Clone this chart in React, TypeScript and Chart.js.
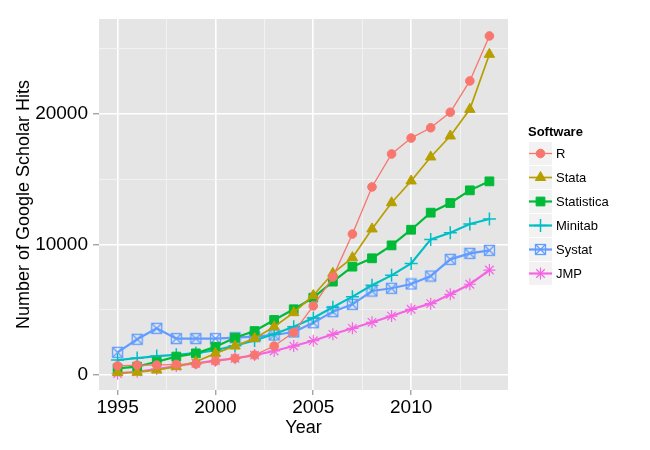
import { useEffect, useRef } from 'react';
import { Chart, registerables } from 'chart.js';
import { drawPoint } from 'chart.js/helpers';

Chart.register(...registerables);

const years = [1995, 1996, 1997, 1998, 1999, 2000, 2001, 2002, 2003, 2004, 2005, 2006, 2007, 2008, 2009, 2010, 2011, 2012, 2013, 2014];
const rHits = [700, 760, 760, 820, 850, 1070, 1280, 1530, 2220, 3270, 5300, 7510, 10810, 14420, 16950, 18170, 18960, 20150, 22550, 26000];
const stataHits = [180, 210, 380, 640, 1020, 1660, 2220, 2810, 3700, 4780, 6100, 7800, 9000, 11200, 13210, 14880, 16720, 18330, 20370, 24590];
const statisticaHits = [510, 640, 1020, 1410, 1660, 2170, 2860, 3370, 4220, 5040, 5930, 7160, 8310, 8950, 9940, 11140, 12450, 13190, 14160, 14850];
const minitabHits = [1150, 1300, 1450, 1550, 1680, 1900, 2250, 2650, 3150, 3700, 4370, 5190, 6010, 6880, 7640, 8560, 10400, 10910, 11580, 11960];
const systatHits = [1740, 2740, 3580, 2790, 2790, 2790, 2860, 2940, 3070, 3300, 4010, 4860, 5420, 6440, 6650, 6980, 7590, 8870, 9330, 9560];
const jmpHits = [100, 250, 460, 690, 900, 1100, 1280, 1530, 1840, 2220, 2630, 3120, 3580, 4040, 4520, 5040, 5470, 6190, 6960, 8050];

const softwareNames = ['R', 'Stata', 'Statistica', 'Minitab', 'Systat', 'JMP'];
const xTickValues = [1995, 1997.5, 2000, 2002.5, 2005, 2007.5, 2010, 2012.5];
const yTickValues = [0, 5000, 10000, 15000, 20000, 25000];
const legendTitle = 'Software';
const xTitle = 'Year';
const yTitle = 'Number of Google Scholar Hits';

const FONT = "'Liberation Sans', Arial, sans-serif";

function makeSquareCross(color: string): HTMLCanvasElement {
  const c = document.createElement('canvas');
  c.width = 13;
  c.height = 13;
  const g = c.getContext('2d')!;
  g.strokeStyle = color;
  g.lineWidth = 1.3;
  g.strokeRect(1.5, 1.5, 10, 10);
  g.beginPath();
  g.moveTo(1.5, 1.5);
  g.lineTo(11.5, 11.5);
  g.moveTo(11.5, 1.5);
  g.lineTo(1.5, 11.5);
  g.stroke();
  return c;
}

const panelPlugin = {
  id: 'panelBg',
  beforeDraw(chart: any) {
    const { ctx, chartArea } = chart;
    ctx.save();
    ctx.fillStyle = '#E5E5E5';
    ctx.fillRect(chartArea.left, chartArea.top, chartArea.right - chartArea.left, chartArea.bottom - chartArea.top);
    ctx.restore();
  },
};

const legendPlugin = {
  id: 'ggLegend',
  afterDraw(chart: any) {
    const ctx = chart.ctx;
    ctx.save();
    ctx.font = `bold 13px ${FONT}`;
    ctx.fillStyle = '#000';
    ctx.textAlign = 'left';
    ctx.textBaseline = 'alphabetic';
    ctx.fillText(legendTitle, 528, 136);
    chart.data.datasets.forEach((ds: any, i: number) => {
      const top = 142 + i * 24;
      const cy = top + 11.5;
      ctx.fillStyle = '#F2F2F2';
      ctx.fillRect(529, top, 23, 23);
      ctx.strokeStyle = ds.borderColor;
      ctx.lineWidth = ds.borderWidth;
      ctx.beginPath();
      ctx.moveTo(529, cy);
      ctx.lineTo(552, cy);
      ctx.stroke();
      ctx.fillStyle = ds.pointBackgroundColor;
      ctx.strokeStyle = ds.pointBorderColor;
      ctx.lineWidth = ds.pointBorderWidth;
      drawPoint(ctx, { pointStyle: ds.pointStyle, radius: ds.pointRadius, rotation: 0, borderWidth: ds.pointBorderWidth } as any, 540.5, cy);
      ctx.font = `13px ${FONT}`;
      ctx.fillStyle = '#000';
      ctx.textBaseline = 'middle';
      ctx.fillText(ds.label, 556, cy + 0.5);
    });
    ctx.restore();
  },
};

export default function App() {
  const ref = useRef<HTMLCanvasElement>(null);

  useEffect(() => {
    if (!ref.current) return;
    const series = [rHits, stataHits, statisticaHits, minitabHits, systatHits, jmpHits];
    const colors = ['#F8766D', '#B79F00', '#00BA38', '#00BFC4', '#619CFF', '#F564E3'];
    const styles: any[] = ['circle', 'triangle', 'rect', 'cross', makeSquareCross('#619CFF'), 'star'];
    const radii = [4.3, 6, 6.2, 6.5, 6, 6];
    const pbw = [1, 1, 1, 1.5, 1, 1.2];
    const lw = [1.3, 1.7, 2.2, 2.2, 2.2, 2.2];

    const datasets = softwareNames.map((name, i) => ({
      label: name,
      data: years.map((x, j) => ({ x, y: series[i][j] })),
      borderColor: colors[i],
      backgroundColor: colors[i],
      pointBackgroundColor: colors[i],
      pointBorderColor: colors[i],
      borderWidth: lw[i],
      pointStyle: styles[i],
      pointRadius: radii[i],
      pointBorderWidth: pbw[i],
      pointHoverRadius: radii[i],
      tension: 0,
      fill: false,
    }));

    const isMajorX = (v: number) => v % 5 === 0;
    const isMajorY = (v: number) => v % 10000 === 0;

    const chart = new Chart(ref.current, {
      type: 'line',
      data: { datasets },
      plugins: [panelPlugin, legendPlugin],
      options: {
        animation: false,
        responsive: false,
        events: [],
        layout: { padding: { left: 0, right: 142, top: 19, bottom: 0 } },
        plugins: { legend: { display: false }, tooltip: { enabled: false } },
        scales: {
          x: {
            type: 'linear',
            min: 1994.05,
            max: 2014.95,
            afterBuildTicks: (s: any) => {
              s.ticks = xTickValues.map((v) => ({ value: v }));
            },
            afterFit: (s: any) => {
              s.height = 60;
            },
            border: { display: false },
            grid: {
              color: (c: any) => (isMajorX(c.tick?.value) ? '#FFFFFF' : '#F2F2F2'),
              lineWidth: (c: any) => (isMajorX(c.tick?.value) ? 1.6 : 1),
              tickColor: (c: any) => (isMajorX(c.tick?.value) ? '#7F7F7F' : 'rgba(0,0,0,0)'),
              tickLength: 5,
              tickWidth: 1,
            },
            ticks: {
              autoSkip: false,
              maxRotation: 0,
              padding: 1.5,
              color: '#000',
              font: { family: FONT, size: 19 },
              callback: (v: any) => (isMajorX(Number(v)) ? String(v) : ''),
            },
            title: {
              display: true,
              text: xTitle,
              color: '#000',
              font: { family: FONT, size: 18 },
              padding: { top: 0, bottom: 10.9 },
            },
          },
          y: {
            type: 'linear',
            min: -1150,
            max: 27300,
            afterBuildTicks: (s: any) => {
              s.ticks = yTickValues.map((v) => ({ value: v }));
            },
            afterFit: (s: any) => {
              s.width = 99;
            },
            border: { display: false },
            grid: {
              color: (c: any) => (isMajorY(c.tick?.value) ? '#FFFFFF' : '#F2F2F2'),
              lineWidth: (c: any) => (isMajorY(c.tick?.value) ? 1.6 : 1),
              tickColor: (c: any) => (isMajorY(c.tick?.value) ? '#7F7F7F' : 'rgba(0,0,0,0)'),
              tickLength: 6,
              tickWidth: 1,
            },
            ticks: {
              autoSkip: false,
              padding: 5,
              color: '#000',
              font: { family: FONT, size: 19 },
              callback: (v: any) => (isMajorY(Number(v)) ? String(v) : ''),
            },
            title: {
              display: true,
              text: yTitle,
              color: '#000',
              font: { family: FONT, size: 18 },
              padding: { top: 13.2, bottom: 0 },
            },
          },
        },
      },
    });
    return () => chart.destroy();
  }, []);

  return (
    <div style={{ position: 'absolute', left: 0, top: 0, width: 650, height: 450, background: '#fff' }}>
      <canvas ref={ref} width={650} height={450} />
    </div>
  );
}
